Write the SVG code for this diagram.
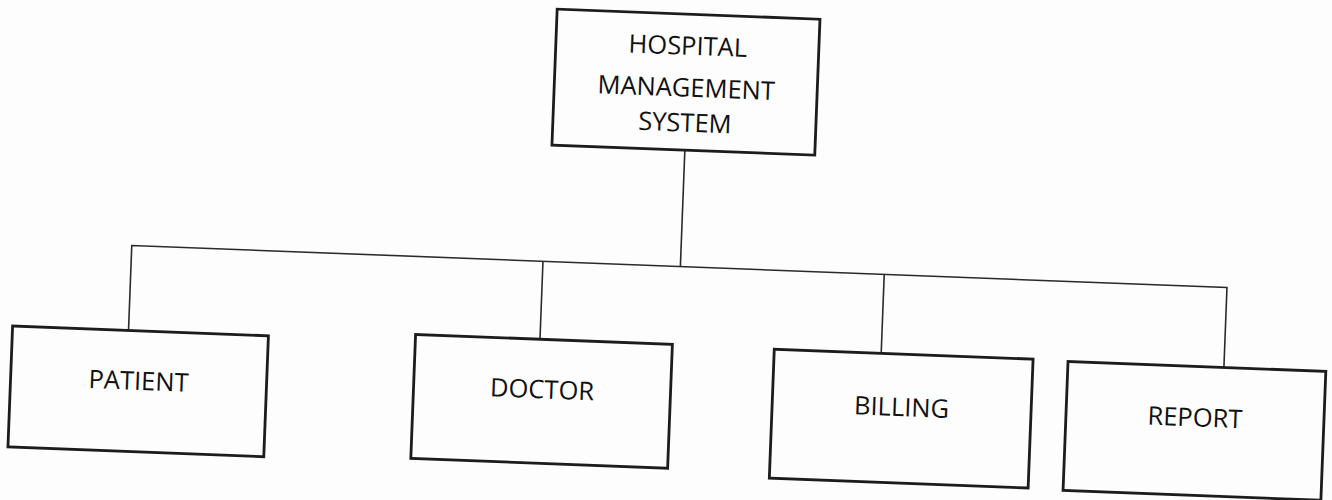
<svg xmlns="http://www.w3.org/2000/svg" width="1332" height="500" viewBox="0 0 1332 500">
  <style>
    .box { fill: none; stroke: #1c1c1c; stroke-width: 2.8; }
    .link { fill: none; stroke: #2a2a2a; stroke-width: 1.6; }
    .label { font-family: "Open Sans", "Liberation Sans", sans-serif; font-size: 25.5px; fill: #111; text-anchor: middle; }
  </style>
  <rect width="1332" height="500" fill="#fdfdfd"/>
  <!-- whole chart sits slightly tilted on the page -->
  <g transform="rotate(2.2 666 250)">
    <g id="connectors">
      <line class="link" x1="681" y1="149.5" x2="681" y2="266"/>
      <polyline class="link" points="132,350 132,266 1228,266 1228,346"/>
      <line class="link" x1="543.5" y1="266" x2="543.5" y2="344"/>
      <line class="link" x1="885" y1="266" x2="885" y2="345"/>
    </g>
    <g id="hms">
      <rect class="box" x="548" y="13.5" width="263" height="136"/>
      <text class="label" x="680" y="54">HOSPITAL</text>
      <text class="label" x="680" y="96">MANAGEMENT</text>
      <text class="label" x="680" y="131">SYSTEM</text>
    </g>
    <g id="patient">
      <rect class="box" x="16" y="351" width="256" height="121"/>
      <text class="label" x="144" y="410">PATIENT</text>
    </g>
    <g id="doctor">
      <rect class="box" x="419" y="344" width="257" height="124"/>
      <text class="label" x="547.5" y="403">DOCTOR</text>
    </g>
    <g id="billing">
      <rect class="box" x="778" y="345" width="259" height="129"/>
      <text class="label" x="907.5" y="407">BILLING</text>
    </g>
    <g id="report">
      <rect class="box" x="1072" y="346" width="258" height="129"/>
      <text class="label" x="1201" y="406">REPORT</text>
    </g>
  </g>
</svg>
